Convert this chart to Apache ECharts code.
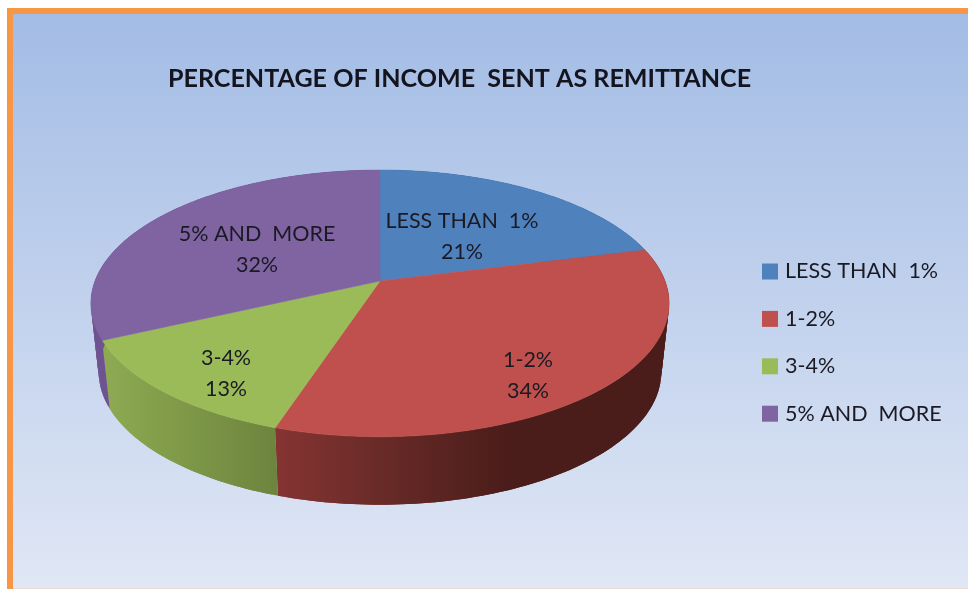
<!DOCTYPE html>
<html>
<head>
<meta charset="utf-8">
<style>html,body{margin:0;padding:0;background:#fff}#c{width:968px;height:589px}</style>
<script src="https://cdn.jsdelivr.net/npm/echarts@6/dist/echarts.min.js"></script>
</head>
<body>
<div id="c"></div>
<script>
var titleText = 'PERCENTAGE OF INCOME  SENT AS REMITTANCE';
var categories = ['LESS THAN  1%', '1-2%', '3-4%', '5% AND  MORE'];
var values = [21, 34, 13, 32];
var topColors = ['#4f81bd', '#c0504d', '#9bbb59', '#8064a2'];

// Perspective view of the pie disc
var view = { apexX: 380, apexY: 281, a: 285, b: 129.6, k: 0.168,
             wallScaleX: 0.973, wallScaleY: 0.996, wallCY: 372, topCY: 303.5 };
// Label centres, relative to the apex
var labelOffsets = [[82, -44], [148, 95], [-154, 93], [-123, -31]];

var total = values.reduce(function (s, v) { return s + v; }, 0);

function topPoint(theta) {
  var x = Math.sin(theta), y = -Math.cos(theta), d = 1 - view.k * y;
  return [view.apexX + view.a * x / d, view.apexY + view.b * y / d];
}
function bottomPoint(p) {
  return [view.apexX + (p[0] - view.apexX) * view.wallScaleX,
          view.wallCY + (p[1] - view.topCY) * view.wallScaleY];
}
function wallFill(i) {
  if (i === 1) {
    return { type: 'linear', global: true, x: 277, y: 0, x2: 669, y2: 0, colorStops: [
      { offset: 0, color: '#853432' }, { offset: 0.28, color: '#672a27' },
      { offset: 0.58, color: '#4b1d1a' }, { offset: 1, color: '#4a1c1a' }] };
  }
  if (i === 2) {
    return { type: 'linear', global: true, x: 100, y: 0, x2: 278, y2: 0, colorStops: [
      { offset: 0, color: '#8fab52' }, { offset: 1, color: '#6c843d' }] };
  }
  return i === 3 ? '#6f5491' : '#3f6897';
}
function makeRender(i) {
  return function () {
    var start = 0;
    for (var j = 0; j < i; j++) start += values[j];
    var a0 = start / total * Math.PI * 2;
    var a1 = (start + values[i]) / total * Math.PI * 2;
    var arc = [];
    var steps = Math.max(12, Math.round(values[i] * 3));
    for (var s = 0; s <= steps; s++) arc.push(topPoint(a0 + (a1 - a0) * s / steps));
    var top = [[view.apexX, view.apexY]].concat(arc);
    var off = labelOffsets[i];
    var fill = wallFill(i);
    var children = [];
    // swept side wall, so that its outline is tangent to both rims;
    // each piece overlaps the next one so no seams show
    for (var q = 0; q < steps; q++) {
      var p0 = arc[q], p1 = arc[Math.min(q + 2, steps)];
      children.push({ type: 'polygon', z2: 1,
        shape: { points: [p0, arc[q + 1], p1, bottomPoint(p1), bottomPoint(arc[q + 1]), bottomPoint(p0)] },
        style: { fill: fill } });
    }
    children.push({ type: 'polygon', z2: 10, shape: { points: top },
      style: { fill: topColors[i], stroke: topColors[i], lineWidth: 0.5 } });
    children.push({ type: 'text', z2: 20, style: {
      x: view.apexX + off[0], y: view.apexY + off[1],
      text: categories[i] + '\n' + values[i] + '%',
      align: 'center', verticalAlign: 'middle',
      fontFamily: 'Lato', fontSize: 21.5, lineHeight: 31, fill: '#1a1a24' } });
    return { type: 'group', children: children };
  };
}

var chart = echarts.init(document.getElementById('c'), null, { renderer: 'canvas' });
chart.setOption({
  animation: false,
  title: {
    text: titleText, left: 163, top: 61,
    textStyle: { fontFamily: 'Lato', fontWeight: 'bold', fontSize: 25.1, color: '#14141e' }
  },
  legend: {
    orient: 'vertical', left: 757, top: 255.5, itemWidth: 16, itemHeight: 16, itemGap: 25.4,
    icon: 'rect', selectedMode: false, data: categories,
    textStyle: { fontFamily: 'Lato', fontSize: 21.5, color: '#1a1a24', padding: [0, 0, 0, 2] }
  },
  graphic: [
    { type: 'rect', z: 0, silent: true, shape: { x: 7, y: 8, width: 961, height: 581 },
      style: { fill: '#f79646' } },
    { type: 'rect', z: 1, silent: true, shape: { x: 13, y: 588, width: 955, height: 1 },
      style: { fill: '#ead9cc' } },
    { type: 'rect', z: 1, silent: true, shape: { x: 13, y: 14, width: 955, height: 574 },
      style: { fill: { type: 'linear', x: 0, y: 0, x2: 0, y2: 1, colorStops: [
        { offset: 0, color: '#a3bce5' }, { offset: 1, color: '#e0e7f5' }] } } }
  ],
  series: categories.map(function (name, i) {
    return {
      type: 'custom', name: name, coordinateSystem: 'none', z: 2, silent: true,
      itemStyle: { color: topColors[i] },
      data: [[values[i]]],
      renderItem: makeRender(i)
    };
  })
});
</script>
</body>
</html>
